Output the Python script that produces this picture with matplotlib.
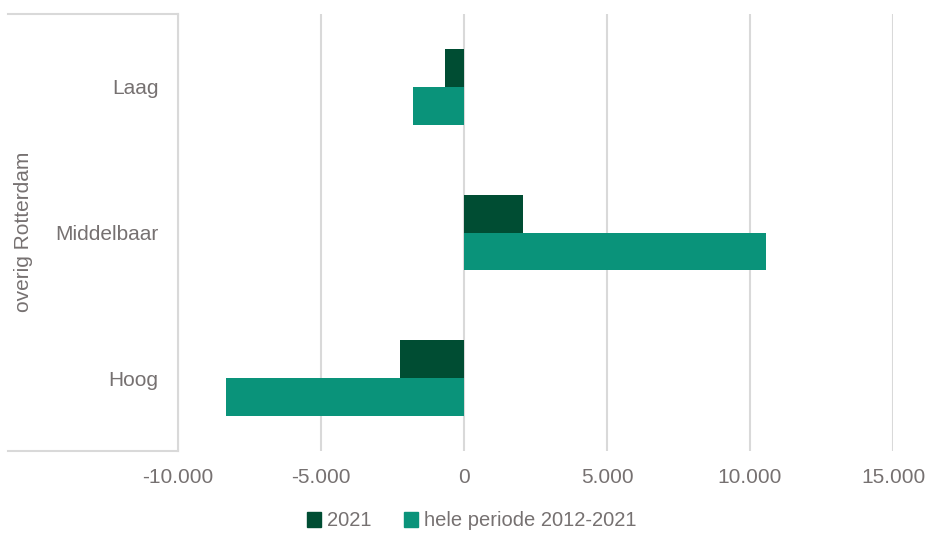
import matplotlib
matplotlib.use("Agg")
import matplotlib.pyplot as plt
from matplotlib.patches import Patch
from matplotlib.lines import Line2D
from matplotlib.ticker import FuncFormatter
import numpy as np

categories = ["Laag", "Middelbaar", "Hoog"]
series_names = ["2021", "hele periode 2012-2021"]
values_2021 = [-650, 2080, -2250]
values_periode = [-1780, 10550, -8310]
group_label = "overig Rotterdam"
x_ticks = [-10000, -5000, 0, 5000, 10000, 15000]

dark_green = "#004d33"
teal = "#0a937a"
text_gray = "#767171"
grid_gray = "#d9d9d9"

plt.rcParams["font.family"] = ["Liberation Sans", "DejaVu Sans"]

W, H = 926, 537
fig = plt.figure(figsize=(W / 100, H / 100), dpi=100)
left_px, right_px, top_px, bottom_px = 178, 893, 14, 451
ax = fig.add_axes([left_px / W, 1 - bottom_px / H,
                   (right_px - left_px) / W, (bottom_px - top_px) / H])

y = np.arange(len(categories))
h = 0.26
ax.barh(y - h / 2, values_2021, height=h, color=dark_green, zorder=3)
ax.barh(y + h / 2, values_periode, height=h, color=teal, zorder=3)

ax.set_xlim(x_ticks[0], x_ticks[-1])
ax.set_ylim(len(categories) - 0.5, -0.5)
ax.set_xticks(x_ticks)
ax.xaxis.set_major_formatter(FuncFormatter(lambda v, p: f"{int(v):,}".replace(",", ".")))
ax.set_yticks(y)
ax.set_yticklabels(categories)
ax.tick_params(axis="both", length=0, labelsize=15, colors=text_gray)
ax.tick_params(axis="x", pad=12)
ax.tick_params(axis="y", pad=14)
ax.grid(axis="x", color=grid_gray, linewidth=1.5, zorder=0)
for s in ax.spines.values():
    s.set_visible(False)

# grouping bracket around the category labels
for (x0, y0, x1, y1) in [(8, top_px, left_px, top_px),
                         (8, bottom_px, left_px, bottom_px),
                         (left_px, top_px, left_px, bottom_px)]:
    fig.add_artist(Line2D([x0 / W, x1 / W], [1 - y0 / H, 1 - y1 / H],
                          color=grid_gray, linewidth=1.5))

fig.text(24 / W, 1 - 232 / H, group_label, rotation=90, ha="center", va="center",
         fontsize=15, color=text_gray)

handles = [Patch(color=dark_green), Patch(color=teal)]
fig.legend(handles, series_names, loc="center", bbox_to_anchor=(472 / W, 1 - 521 / H),
           ncol=2, frameon=False, fontsize=14.5, labelcolor=text_gray,
           handlelength=0.7, handleheight=0.7, handletextpad=0.3, columnspacing=1.6)

fig.savefig("out.png", dpi=100)
